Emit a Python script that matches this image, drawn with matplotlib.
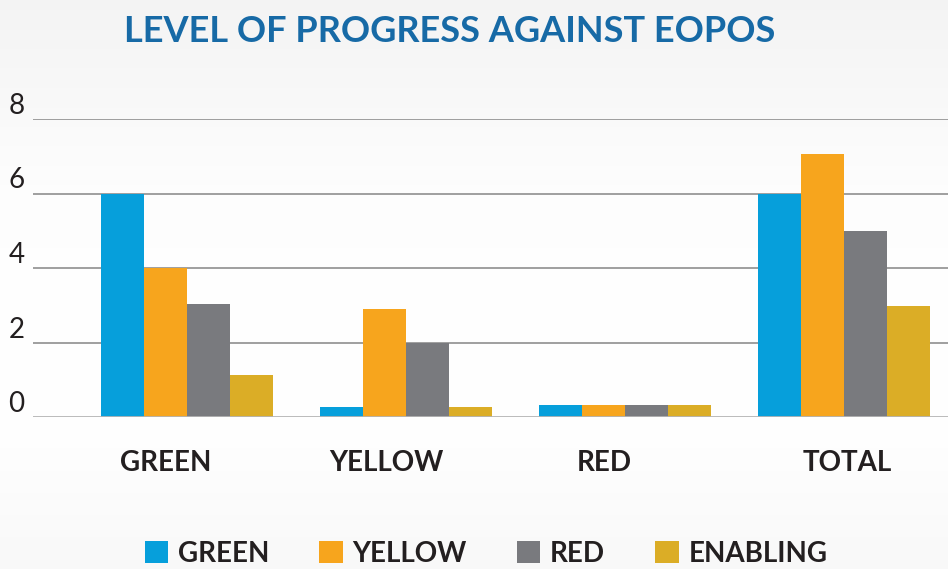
import numpy as np
import matplotlib
matplotlib.use("Agg")
import matplotlib.pyplot as plt
from matplotlib.patches import Patch

categories = ["GREEN", "YELLOW", "RED", "TOTAL"]
series = ["GREEN", "YELLOW", "RED", "ENABLING"]
green = [6, 0.27, 0.32, 6]
yellow = [4, 2.9, 0.32, 7.07]
red = [3.03, 2.0, 0.32, 5.0]
enabling = [1.12, 0.27, 0.32, 2.97]
yticks = [0, 2, 4, 6, 8]

colors = ["#069fdb", "#f7a51d", "#797a7e", "#dbad26"]
FONT = "Lato"
DARK = "#231f20"

fig = plt.figure(figsize=(9.48, 5.69), dpi=100)

# soft grey-white-grey background
bg = fig.add_axes([0, 0, 1, 1], zorder=-10)
g = np.interp(np.linspace(0, 1, 300), [0, 0.35, 0.75, 1], [0.955, 0.995, 1.0, 0.975])
img = np.stack([g, g, g], axis=-1)[:, None, :].repeat(2, axis=1)
bg.imshow(img, aspect="auto", extent=[0, 1, 0, 1])
bg.set_axis_off()

ax = fig.add_axes([33 / 948, 1 - 417 / 569, 1 - 33 / 948, (417 - 119) / 569])
ax.patch.set_alpha(0)

x = np.arange(len(categories))
w = 0.196
for i, (vals, c) in enumerate(zip([green, yellow, red, enabling], colors)):
    ax.bar(x + (i - 1.5) * w, vals, w, color=c, zorder=3, clip_on=False,
           linewidth=0)

ax.set_xlim(-0.703, 3.475)
ax.set_ylim(0, 8)
ax.set_yticks(yticks)
ax.set_yticklabels([str(t) for t in yticks])
ax.tick_params(axis="y", length=0, pad=6, labelsize=20, labelcolor=DARK)
for lab in ax.get_yticklabels():
    lab.set_va("bottom")
    lab.set_fontfamily(FONT)
    lab.set_fontweight("normal")
ax.set_xticks([])
for t in yticks:
    if t == 0:
        ax.axhline(t, color="#b4b4b4", lw=2.0, zorder=4)
    else:
        ax.axhline(t, color="#8f8f8f", lw=1.2, zorder=2)
for s in ax.spines.values():
    s.set_visible(False)

label_shift = [-0.095, -0.09, -0.095, 0.015]
for xi, name, sh in zip(x, categories, label_shift):
    ax.text(xi + sh, -1.24, name, ha="center", va="center", fontsize=20,
            fontfamily=FONT, fontweight="bold", color=DARK,
            transform=ax.transData)

fig.text(450 / 948, 1 - 32 / 569, "LEVEL OF PROGRESS AGAINST EOPOS",
         ha="center", va="center", fontsize=26, fontfamily=FONT,
         fontweight="bold", color="#176aa6")

handles = [Patch(facecolor=c, edgecolor="none") for c in colors]
fig.legend(handles, series, loc="center", bbox_to_anchor=(486 / 948, 1 - 554 / 569),
           ncol=4, frameon=False, prop={"family": FONT, "weight": "bold", "size": 20},
           handlelength=0.85, handleheight=0.85, handletextpad=0.35,
           columnspacing=1.8, labelcolor=DARK)

fig.savefig("out.png", dpi=100)
